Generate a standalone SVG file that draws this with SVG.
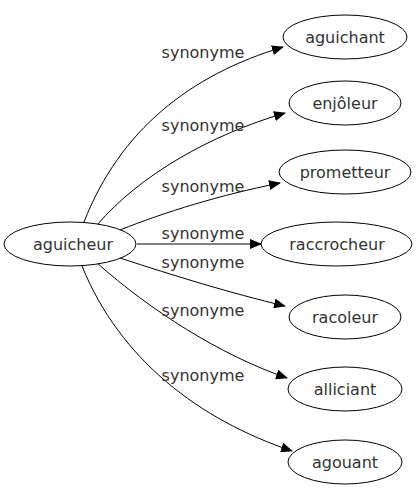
<svg xmlns="http://www.w3.org/2000/svg" width="417" height="491" viewBox="0 0 417 491">
<style>
.n ellipse{fill:#fff;stroke:#000;stroke-width:1}
text{font-family:"DejaVu Sans",sans-serif;font-size:16px;fill:#333;text-anchor:middle}
.e path{fill:none;stroke:#000;stroke-width:1}
</style>
<defs>
<marker id="a" markerWidth="12" markerHeight="10" refX="11" refY="5" orient="auto" markerUnits="userSpaceOnUse">
<path d="M0,0 L12,5 L0,10 z" fill="#000"/>
</marker>
</defs>
<rect width="417" height="491" fill="#fff"/>
<g class="e">
<path d="M84,222 C120,130 190,75 283,47" marker-end="url(#a)"/>
<path d="M97,225 C140,175 210,135 285,113" marker-end="url(#a)"/>
<path d="M120,230 C165,212 220,195 280,183" marker-end="url(#a)"/>
<path d="M137,244 L261,244" marker-end="url(#a)"/>
<path d="M120,258 C175,276 230,293 285,306" marker-end="url(#a)"/>
<path d="M97,263 C150,310 220,355 287,378" marker-end="url(#a)"/>
<path d="M82,266 C120,360 200,420 292,451" marker-end="url(#a)"/>
<text x="203" y="58">synonyme</text>
<text x="203" y="131">synonyme</text>
<text x="203" y="192">synonyme</text>
<text x="203" y="239">synonyme</text>
<text x="203" y="268">synonyme</text>
<text x="203" y="316">synonyme</text>
<text x="203" y="381">synonyme</text>
</g>
<g class="n" id="aguicheur"><ellipse cx="70" cy="244" rx="66" ry="22"/><text x="73" y="250">aguicheur</text></g>
<g class="n" id="aguichant"><ellipse cx="345" cy="37" rx="62" ry="22"/><text x="345" y="43">aguichant</text></g>
<g class="n" id="enjoleur"><ellipse cx="345" cy="103" rx="56" ry="22"/><text x="345" y="109">enjôleur</text></g>
<g class="n" id="prometteur"><ellipse cx="345" cy="172" rx="66" ry="22"/><text x="345" y="178">prometteur</text></g>
<g class="n" id="raccrocheur"><ellipse cx="336.5" cy="244" rx="75.5" ry="22"/><text x="337" y="250">raccrocheur</text></g>
<g class="n" id="racoleur"><ellipse cx="345" cy="317" rx="56" ry="22"/><text x="345" y="323">racoleur</text></g>
<g class="n" id="alliciant"><ellipse cx="345" cy="389" rx="57" ry="22"/><text x="345" y="395">alliciant</text></g>
<g class="n" id="agouant"><ellipse cx="345" cy="462" rx="57" ry="22"/><text x="345" y="468">agouant</text></g>
</svg>
